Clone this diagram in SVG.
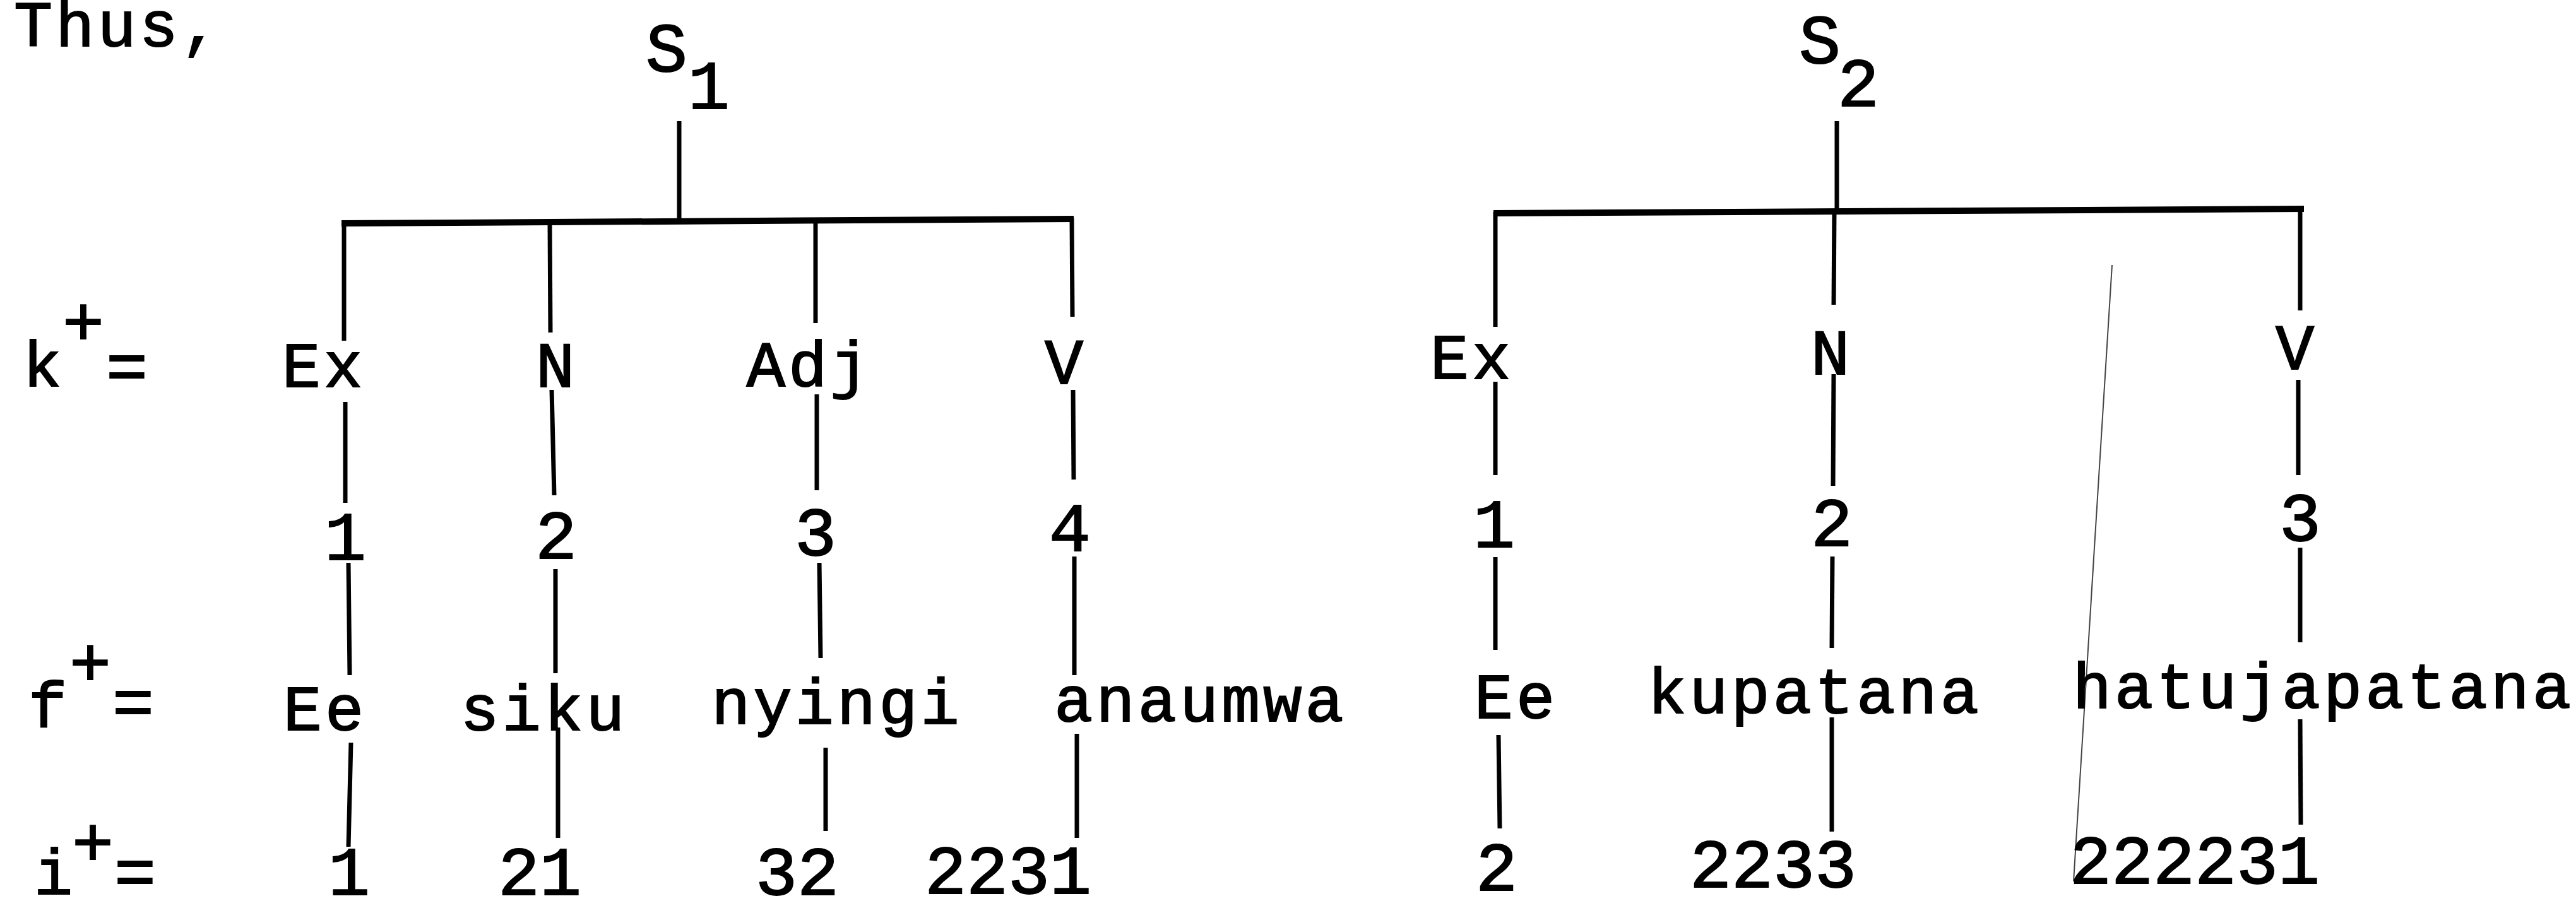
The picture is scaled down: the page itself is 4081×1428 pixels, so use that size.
<svg xmlns="http://www.w3.org/2000/svg" width="4081" height="1428" viewBox="0 0 4081 1428">
<style>
text{font-family:"Liberation Mono","Courier New",monospace;font-size:110px;fill:#000;stroke:#000;stroke-width:2;text-anchor:middle}
.w{font-size:102px;letter-spacing:5px}
.st{text-anchor:start}
.ln{stroke:#000;stroke-width:7;fill:none;stroke-linecap:butt}
.bar{stroke:#000;stroke-width:10;fill:none}
.faint{stroke:#444;stroke-width:2;fill:none}
</style>
<rect width="4081" height="1428" fill="#fff"/>
<g id="connectors">
  <line class="ln" x1="1076" y1="192" x2="1076" y2="353"/>
  <line class="bar" x1="541" y1="354" x2="1701" y2="347"/>
  <line class="ln" x1="545" y1="352" x2="545" y2="540"/>
  <line class="ln" x1="547" y1="637" x2="547" y2="797"/>
  <line class="ln" x1="552" y1="892" x2="554" y2="1070"/>
  <line class="ln" x1="556" y1="1177" x2="552" y2="1342"/>
  <line class="ln" x1="871" y1="352" x2="872" y2="527"/>
  <line class="ln" x1="874" y1="618" x2="878" y2="785"/>
  <line class="ln" x1="880" y1="902" x2="880" y2="1067"/>
  <line class="ln" x1="884" y1="1153" x2="884" y2="1328"/>
  <line class="ln" x1="1292" y1="350" x2="1292" y2="512"/>
  <line class="ln" x1="1294" y1="625" x2="1294" y2="777"/>
  <line class="ln" x1="1298" y1="892" x2="1300" y2="1043"/>
  <line class="ln" x1="1308" y1="1185" x2="1308" y2="1317"/>
  <line class="ln" x1="1698" y1="345" x2="1699" y2="502"/>
  <line class="ln" x1="1700" y1="618" x2="1701" y2="760"/>
  <line class="ln" x1="1702" y1="882" x2="1702" y2="1070"/>
  <line class="ln" x1="1706" y1="1163" x2="1706" y2="1328"/>
  <line class="ln" x1="2910" y1="192" x2="2910" y2="332"/>
  <line class="bar" x1="2366" y1="338" x2="3650" y2="331"/>
  <line class="ln" x1="2369" y1="336" x2="2369" y2="518"/>
  <line class="ln" x1="2369" y1="605" x2="2369" y2="753"/>
  <line class="ln" x1="2369" y1="883" x2="2369" y2="1030"/>
  <line class="ln" x1="2374" y1="1165" x2="2376" y2="1313"/>
  <line class="ln" x1="2906" y1="334" x2="2905" y2="483"/>
  <line class="ln" x1="2905" y1="593" x2="2904" y2="770"/>
  <line class="ln" x1="2903" y1="882" x2="2902" y2="1027"/>
  <line class="ln" x1="2902" y1="1137" x2="2902" y2="1318"/>
  <line class="ln" x1="3644" y1="328" x2="3644" y2="492"/>
  <line class="ln" x1="3641" y1="602" x2="3641" y2="753"/>
  <line class="ln" x1="3644" y1="868" x2="3644" y2="1018"/>
  <line class="ln" x1="3644" y1="1140" x2="3645" y2="1307"/>
  <line class="faint" x1="3346" y1="420" x2="3285" y2="1397"/>
</g>
<g id="intro"><text class="w st" x="22" y="73">Thus,</text></g>
<g id="labels">
  <text class="w" x="69" y="612">k</text><text x="132" y="547">+</text><text x="201" y="617">=</text>
  <text class="w" x="78" y="1152">f</text><text x="143" y="1087">+</text><text x="211" y="1149">=</text>
  <text class="w" x="87" y="1417">i</text><text x="147" y="1372">+</text><text x="214" y="1418">=</text>
</g>
<g id="S1"><text x="1056" y="113">S</text><text x="1123" y="172">1</text></g>
<g id="S2"><text x="2883" y="100">S</text><text x="2944" y="168">2</text></g>
<g id="t1-Ex"><text class="w" x="513" y="613">Ex</text></g>
<g id="t1-N"><text class="w" x="882" y="613">N</text></g>
<g id="t1-Adj"><text class="w" x="1282" y="612">Adj</text></g>
<g id="t1-V"><text class="w" x="1688" y="608">V</text></g>
<g id="t2-Ex"><text class="w" x="2332" y="600">Ex</text></g>
<g id="t2-N"><text class="w" x="2902" y="593">N</text></g>
<g id="t2-V"><text class="w" x="3638" y="585">V</text></g>
<g id="t1-1"><text x="547" y="887">1</text></g>
<g id="t1-2"><text x="881" y="885">2</text></g>
<g id="t1-3"><text x="1292" y="880">3</text></g>
<g id="t1-4"><text x="1695" y="873">4</text></g>
<g id="t2-1"><text x="2367" y="867">1</text></g>
<g id="t2-2"><text x="2902" y="865">2</text></g>
<g id="t2-3"><text x="3644" y="857">3</text></g>
<g id="t1-Ee"><text class="w" x="515" y="1157">Ee</text></g>
<g id="t1-siku"><text class="w" x="862" y="1157">siku</text></g>
<g id="t1-nyingi"><text class="w" x="1326" y="1147">nyingi</text></g>
<g id="t1-anaumwa"><text class="w" x="1902" y="1143">anaumwa</text></g>
<g id="t2-Ee"><text class="w" x="2402" y="1138">Ee</text></g>
<g id="t2-kupatana"><text class="w" x="2875" y="1130">kupatana</text></g>
<g id="t2-hatujapatana"><text class="w" x="3681" y="1122">hatujapatana</text></g>
<g id="t1-i1"><text x="553" y="1418">1</text></g>
<g id="t1-i2"><text x="855" y="1418">21</text></g>
<g id="t1-i3"><text x="1263" y="1418">32</text></g>
<g id="t1-i4"><text x="1597" y="1416">2231</text></g>
<g id="t2-i1"><text x="2371" y="1411">2</text></g>
<g id="t2-i2"><text x="2809" y="1406">2233</text></g>
<g id="t2-i3"><text x="3477" y="1400">222231</text></g>
</svg>
